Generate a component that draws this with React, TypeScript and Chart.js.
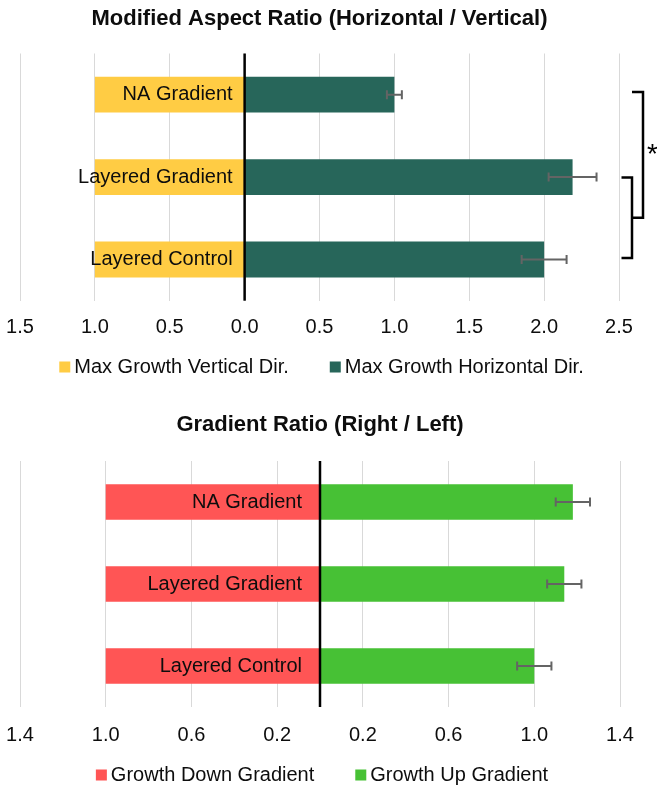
import React, { useEffect, useRef } from 'react';
import { Chart, registerables } from 'chart.js';

Chart.register(...registerables);

const FONT = "'Liberation Sans', Arial, Helvetica, sans-serif";

const categories = ['NA Gradient', 'Layered Gradient', 'Layered Control'];

// Top panel
const aspectTitle = 'Modified Aspect Ratio (Horizontal / Vertical)';
const aspectLeftLabel = 'Max Growth Vertical Dir.';
const aspectRightLabel = 'Max Growth Horizontal Dir.';
const aspectVertical = [1.0, 1.0, 1.0];
const aspectHorizontal = [1.0, 2.19, 2.0];
const aspectHorizontalErr = [0.05, 0.16, 0.15];
const aspectAxis = [-1.5, 2.5, 0.5]; // min, max, step
const aspectSignificance = '*';

// Bottom panel
const gradientTitle = 'Gradient Ratio (Right / Left)';
const gradientLeftLabel = 'Growth Down Gradient';
const gradientRightLabel = 'Growth Up Gradient';
const gradientDown = [1.0, 1.0, 1.0];
const gradientUp = [1.18, 1.14, 1.0];
const gradientUpErr = [0.08, 0.08, 0.08];
const gradientAxis = [-1.4, 1.4, 0.4];

type Spec = {
  title: string;
  leftLabel: string;
  rightLabel: string;
  left: number[];
  right: number[];
  err: number[];
  axis: number[];
  leftColor: string;
  rightColor: string;
  significance: string | null;
  layout: {
    padLeft: number;
    padRight: number;
    padBottom: number;
    titleTop: number;
    titleBottom: number;
    tickPad: number;
    labelGap: number;
    legendY: number;
  };
};

function MirrorBars({ spec }: { spec: Spec }) {
  const ref = useRef<HTMLCanvasElement>(null);

  useEffect(() => {
    if (!ref.current) return;
    const L = spec.layout;
    const overlay = {
      id: 'overlay',
      afterDatasetsDraw(chart: any) {
        const ctx = chart.ctx;
        const xs = chart.scales.x;
        const ys = chart.scales.y;
        const area = chart.chartArea;
        ctx.save();

        // error bars
        ctx.strokeStyle = '#646464';
        ctx.lineWidth = 2;
        spec.right.forEach((v, i) => {
          const y = ys.getPixelForValue(i);
          const x1 = xs.getPixelForValue(v - spec.err[i]);
          const x2 = xs.getPixelForValue(v + spec.err[i]);
          ctx.beginPath();
          ctx.moveTo(x1, y);
          ctx.lineTo(x2, y);
          ctx.moveTo(x1, y - 4.5);
          ctx.lineTo(x1, y + 4.5);
          ctx.moveTo(x2, y - 4.5);
          ctx.lineTo(x2, y + 4.5);
          ctx.stroke();
        });

        // zero line
        const x0 = xs.getPixelForValue(0);
        ctx.strokeStyle = '#000';
        ctx.lineWidth = 2.5;
        ctx.beginPath();
        ctx.moveTo(x0, area.top);
        ctx.lineTo(x0, area.bottom);
        ctx.stroke();

        // category labels
        ctx.font = `20px ${FONT}`;
        ctx.fillStyle = '#0d0d0d';
        ctx.textAlign = 'right';
        ctx.textBaseline = 'middle';
        categories.forEach((c, i) => {
          ctx.fillText(c, x0 - L.labelGap, ys.getPixelForValue(i));
        });

        // significance brackets
        if (spec.significance) {
          const r = area.right;
          const y0 = ys.getPixelForValue(0);
          const y1 = ys.getPixelForValue(1);
          const y2 = ys.getPixelForValue(2);
          const sTop = y1 + 0.5;
          const sBot = y2 - 1.5;
          const lTop = y0 - 2.6;
          const lBot = (sTop + sBot) / 2;
          ctx.strokeStyle = '#000';
          ctx.lineWidth = 2.5;
          ctx.lineJoin = 'miter';
          ctx.beginPath();
          ctx.moveTo(r + 2.5, sTop);
          ctx.lineTo(r + 13, sTop);
          ctx.lineTo(r + 13, sBot);
          ctx.lineTo(r + 2.5, sBot);
          ctx.stroke();
          ctx.beginPath();
          ctx.moveTo(r + 13, lTop);
          ctx.lineTo(r + 24, lTop);
          ctx.lineTo(r + 24, lBot);
          ctx.lineTo(r + 13, lBot);
          ctx.stroke();
          ctx.font = `28px ${FONT}`;
          ctx.textAlign = 'center';
          ctx.textBaseline = 'middle';
          ctx.fillStyle = '#000';
          ctx.fillText(spec.significance, r + 33.5, (lTop + lBot) / 2);
        }

        // legend
        ctx.font = `20px ${FONT}`;
        const box = 11;
        const gap = 4;
        const sep = 41;
        const w1 = ctx.measureText(spec.leftLabel).width;
        const w2 = ctx.measureText(spec.rightLabel).width;
        const total = box + gap + w1 + sep + box + gap + w2;
        let x = (area.left + area.right) / 2 + 2 - total / 2;
        const ly = L.legendY;
        ctx.textAlign = 'left';
        ctx.textBaseline = 'middle';
        ctx.fillStyle = spec.leftColor;
        ctx.fillRect(x, ly - box / 2, box, box);
        ctx.fillStyle = '#0d0d0d';
        ctx.fillText(spec.leftLabel, x + box + gap, ly);
        x += box + gap + w1 + sep;
        ctx.fillStyle = spec.rightColor;
        ctx.fillRect(x, ly - box / 2, box, box);
        ctx.fillStyle = '#0d0d0d';
        ctx.fillText(spec.rightLabel, x + box + gap, ly);

        ctx.restore();
      },
    };

    const chart = new Chart(ref.current, {
      type: 'bar',
      data: {
        labels: categories,
        datasets: [
          {
            label: spec.leftLabel,
            data: spec.left.map((v) => -v),
            backgroundColor: spec.leftColor,
            borderWidth: 0,
            barPercentage: 1,
            categoryPercentage: 0.435,
          },
          {
            label: spec.rightLabel,
            data: spec.right,
            backgroundColor: spec.rightColor,
            borderWidth: 0,
            barPercentage: 1,
            categoryPercentage: 0.435,
          },
        ],
      },
      options: {
        indexAxis: 'y',
        responsive: false,
        animation: false,
        layout: {
          padding: { top: 0, left: L.padLeft, right: L.padRight, bottom: L.padBottom },
        },
        plugins: {
          legend: { display: false },
          tooltip: { enabled: false },
          title: {
            display: true,
            text: spec.title,
            color: '#0d0d0d',
            font: { family: FONT, size: 22, weight: 'bold' },
            padding: { top: L.titleTop, bottom: L.titleBottom },
          },
        },
        scales: {
          x: {
            type: 'linear',
            min: spec.axis[0],
            max: spec.axis[1],
            stacked: true,
            border: { display: false },
            grid: { color: '#d9d9d9', lineWidth: 1, drawTicks: false },
            ticks: {
              stepSize: spec.axis[2],
              padding: L.tickPad,
              color: '#0d0d0d',
              font: { family: FONT, size: 20 },
              maxRotation: 0,
              autoSkip: false,
              callback: (v: any) => Math.abs(Number(v)).toFixed(1),
            },
            afterFit: (s: any) => {
              s.height = 50;
              s.paddingLeft = 0;
              s.paddingRight = 0;
            },
          },
          y: { display: false, stacked: true },
        },
      },
      plugins: [overlay],
    } as any);

    return () => chart.destroy();
  }, [spec]);

  return <canvas ref={ref} width={657} height={394} style={{ display: 'block', width: 657, height: 394 }} />;
}

const topSpec: Spec = {
  title: aspectTitle,
  leftLabel: aspectLeftLabel,
  rightLabel: aspectRightLabel,
  left: aspectVertical,
  right: aspectHorizontal,
  err: aspectHorizontalErr,
  axis: aspectAxis,
  leftColor: '#FFCC44',
  rightColor: '#27665A',
  significance: aspectSignificance,
  layout: { padLeft: 20, padRight: 38, padBottom: 43.3, titleTop: 5.5, titleBottom: 21.6, tickPad: 14.5, labelGap: 12, legendY: 367 },
};

const bottomSpec: Spec = {
  title: gradientTitle,
  leftLabel: gradientLeftLabel,
  rightLabel: gradientRightLabel,
  left: gradientDown,
  right: gradientUp,
  err: gradientUpErr,
  axis: gradientAxis,
  leftColor: '#FF5555',
  rightColor: '#47C135',
  significance: null,
  layout: { padLeft: 20, padRight: 37, padBottom: 31, titleTop: 18, titleBottom: 22.6, tickPad: 16, labelGap: 18, legendY: 381 },
};

export default function App() {
  return (
    <div style={{ position: 'absolute', left: 0, top: 0, width: 657, height: 788, background: '#fff' }}>
      <MirrorBars spec={topSpec} />
      <MirrorBars spec={bottomSpec} />
    </div>
  );
}
